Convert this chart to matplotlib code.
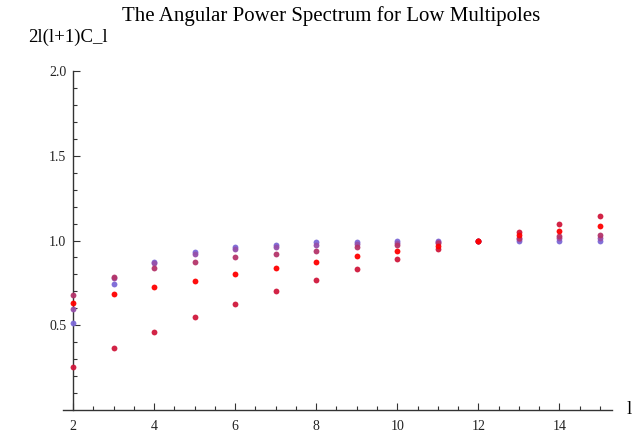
import numpy as np
import matplotlib
matplotlib.use("Agg")
import matplotlib.pyplot as plt
from matplotlib.ticker import FixedLocator

# multipoles
ell = [2, 3, 4, 5, 6, 7, 8, 9, 10, 11, 12, 13, 14, 15]

# normalised spectra (all equal 1 at l = 12)
blue = [0.516, 0.743, 0.876, 0.930, 0.961, 0.976, 0.990, 0.994, 0.997, 0.999, 1.0, 1.0, 1.0, 1.0]
purple = [0.596, 0.780, 0.868, 0.918, 0.947, 0.963, 0.976, 0.982, 0.988, 0.994, 1.0, 1.006, 1.012, 1.016]
magenta = [0.680, 0.784, 0.835, 0.872, 0.900, 0.922, 0.941, 0.959, 0.971, 0.985, 1.0, 1.016, 1.024, 1.033]
crimson = [0.255, 0.367, 0.463, 0.549, 0.627, 0.700, 0.769, 0.831, 0.890, 0.947, 1.0, 1.052, 1.100, 1.147]
red = [0.629, 0.684, 0.724, 0.763, 0.802, 0.839, 0.875, 0.908, 0.939, 0.969, 1.0, 1.035, 1.055, 1.084]

series = [blue, purple, magenta, crimson, red]
colors = ['#7b68d6', '#9650aa', '#b4346a', '#d0183c', '#ff0000']

W, H = 634, 437
plt.rcParams['font.family'] = ['Liberation Serif', 'DejaVu Serif']

fig = plt.figure(figsize=(W / 100, H / 100), dpi=100)
ax = fig.add_axes([63 / W, 1 - 410 / H, (612 - 63) / W, (410 - 71) / H])

for vals, col in zip(series, colors):
    ax.plot(ell, vals, 'o', ms=4.2, color=col, mec='none', alpha=0.95,
            clip_on=False, zorder=3)

ax.set_xlim(1.75, 15.3)
ax.set_ylim(0, 2.0)

# Mathematica style axes crossing at (2, 0)
for side in ['top', 'right']:
    ax.spines[side].set_visible(False)
ax.spines['left'].set_position(('data', 2))
ax.spines['bottom'].set_position(('data', 0))
for side in ['left', 'bottom']:
    ax.spines[side].set_color('#333333')
    ax.spines[side].set_linewidth(1.0)

ax.xaxis.set_major_locator(FixedLocator([2, 4, 6, 8, 10, 12, 14]))
ax.xaxis.set_minor_locator(FixedLocator(np.arange(2.5, 15.01, 0.5)))
ax.yaxis.set_major_locator(FixedLocator([0.5, 1.0, 1.5, 2.0]))
ax.yaxis.set_minor_locator(FixedLocator(np.arange(0.1, 1.95, 0.1)))
ax.set_yticklabels(['0.5', '1.0', '1.5', '2.0'])

ax.tick_params(which='both', direction='in', color='#333333', width=0.8)
ax.tick_params(which='major', length=5, labelsize=10, labelcolor='#222222')
ax.tick_params(which='minor', length=3)
ax.tick_params(axis='x', pad=7)
ax.tick_params(axis='y', pad=5)

fig.text(331 / W, 1 - 21 / H, 'The Angular Power Spectrum for Low Multipoles',
         fontsize=15, ha='center', va='baseline', color='black')
fig.text(68 / W, 1 - 42 / H, '2l(l+1)C_l', fontsize=13.5, ha='center',
         va='baseline', color='black')
fig.text(627 / W, 1 - 410 / H, 'l', fontsize=13.5, ha='left', va='center',
         color='black')

fig.savefig('out.png', dpi=100)
